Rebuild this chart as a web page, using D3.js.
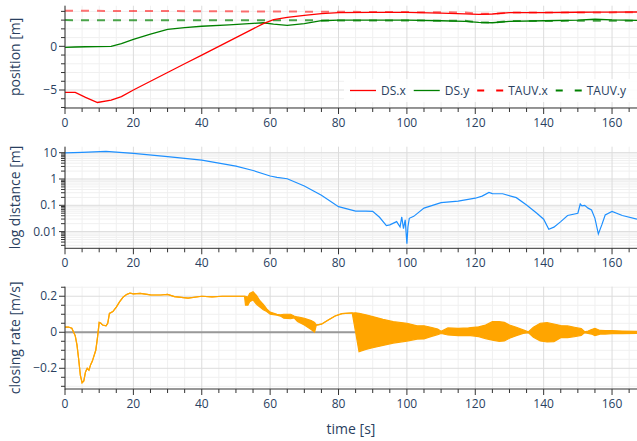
<!DOCTYPE html>
<html>
<head>
<meta charset="utf-8">
<script src="https://cdn.jsdelivr.net/npm/d3@7"></script>
<style>
  body { margin: 0; background: #fff; }
  svg { display: block; font-family: 'Open Sans', sans-serif; }
</style>
</head>
<body>
<div class="chart"></div>
<script>
// ---- data ----
// time axis
const timeDomain = [0, 167.3];
const timeTicks = [0, 20, 40, 60, 80, 100, 120, 140, 160];

// position [m] : DS.x / DS.y (solid), TAUV.x / TAUV.y (dashed)
const dsTime = [0, 3, 6, 9.5, 13.5, 16.5, 20, 25, 30, 35, 40, 48, 55, 58, 61, 65, 70, 75, 80, 90, 100, 110, 117, 121, 125, 130, 140, 150, 155, 160, 167.3];
const dsX = [-5.26, -5.27, -5.85, -6.43, -6.15, -5.75, -5.0, -4.0, -3.0, -2.0, -1.0, 0.6, 2.0, 2.6, 3.05, 3.32, 3.55, 3.75, 3.85, 3.88, 3.89, 3.81, 3.72, 3.66, 3.7, 3.85, 3.86, 3.9, 3.91, 3.92, 3.93];
const dsY = [-0.11, -0.08, -0.05, -0.03, 0.0, 0.3, 0.8, 1.4, 1.94, 2.15, 2.3, 2.45, 2.63, 2.7, 2.55, 2.4, 2.6, 2.93, 3.0, 3.0, 3.0, 2.93, 2.85, 2.75, 2.7, 2.85, 2.93, 3.0, 3.1, 3.02, 2.98];
const tauvTime = [0, 40, 75, 100, 117, 121, 126, 130, 167.3];
const tauvX = [4.07, 4.02, 3.96, 3.92, 3.88, 3.74, 3.74, 3.87, 3.89];
const tauvY = [3.0, 2.98, 2.97, 2.95, 2.93, 2.74, 2.74, 2.9, 2.93];

// log distance [m]
const distTime = [0, 5, 12, 20, 30, 40, 50, 55, 60, 62, 65, 70, 75, 80, 85, 88, 90, 92, 94, 95, 97, 98, 98.5, 99, 99.5, 100, 100.3, 100.7, 102, 105, 110, 115, 120, 122, 124, 125, 128, 132, 135, 138, 140, 141.5, 143, 145, 147, 150, 150.7, 151.2, 152, 153, 154, 155, 156, 157, 158, 160, 163, 167.3];
const distance = [9.8, 10.2, 11.2, 9.5, 7.1, 5.2, 3.1, 2.1, 1.3, 1.15, 1.02, 0.54, 0.24, 0.089, 0.06, 0.06, 0.059, 0.035, 0.017, 0.018, 0.024, 0.015, 0.036, 0.013, 0.028, 0.0035, 0.015, 0.032, 0.038, 0.078, 0.126, 0.145, 0.186, 0.224, 0.31, 0.28, 0.275, 0.195, 0.102, 0.05, 0.0295, 0.0123, 0.0148, 0.024, 0.041, 0.05, 0.112, 0.095, 0.1, 0.078, 0.066, 0.032, 0.0081, 0.018, 0.043, 0.058, 0.041, 0.03];

// closing rate [m/s] : upper / lower envelope (equal where the signal is smooth)
const rateTime = [0, 1, 2, 3, 3.5, 4, 4.5, 5, 5.5, 6, 6.5, 7, 7.5, 8, 9, 9.5, 10, 10.5, 11, 12, 12.5, 13, 14, 15, 16, 17, 18, 19, 20, 22, 25, 28, 30, 32, 36, 40, 43, 46, 52.5,
  52.8, 53.5, 54, 55, 56, 57, 58, 59, 60, 62, 63, 64, 66, 67, 68, 70, 72, 73, 73.5, 75, 77, 79, 81, 84,
  85, 86, 88, 90, 93, 96, 100, 103, 105, 107, 109, 110, 112, 115, 118, 121, 123, 125, 127, 128.5, 130, 132, 134, 135.5, 137, 139, 141, 143, 145, 147, 149, 151, 152, 153, 154, 155, 156.5, 158, 160, 163, 167.3];
const rateHi = [0.028, 0.029, 0.022, -0.02, -0.07, -0.15, -0.24, -0.28, -0.27, -0.22, -0.2, -0.21, -0.18, -0.16, -0.1, -0.03, 0.055, 0.05, 0.04, 0.036, 0.05, 0.105, 0.115, 0.14, 0.17, 0.195, 0.21, 0.217, 0.213, 0.216, 0.208, 0.207, 0.21, 0.198, 0.19, 0.2, 0.196, 0.2, 0.2,
  0.2, 0.195, 0.215, 0.225, 0.205, 0.175, 0.155, 0.13, 0.112, 0.1, 0.097, 0.1, 0.1, 0.09, 0.085, 0.078, 0.065, 0.055, 0.04, 0.045, 0.068, 0.09, 0.103, 0.107,
  0.108, 0.105, 0.097, 0.087, 0.072, 0.059, 0.05, 0.036, 0.036, 0.028, 0.018, 0.006, 0.024, 0.022, 0.024, 0.03, 0.04, 0.059, 0.059, 0.055, 0.04, 0.028, 0.013, 0.002, 0.028, 0.05, 0.053, 0.046, 0.037, 0.035, 0.028, 0.02, 0.003, 0.007, 0.015, 0.022, 0.01, 0.009, 0.009, 0.007, 0.005];
const rateLo = [0.028, 0.029, 0.022, -0.02, -0.07, -0.15, -0.24, -0.28, -0.27, -0.22, -0.2, -0.21, -0.18, -0.16, -0.1, -0.03, 0.055, 0.05, 0.04, 0.036, 0.05, 0.105, 0.115, 0.14, 0.17, 0.195, 0.21, 0.217, 0.213, 0.216, 0.208, 0.207, 0.21, 0.198, 0.19, 0.2, 0.196, 0.2, 0.2,
  0.15, 0.15, 0.17, 0.18, 0.155, 0.14, 0.125, 0.115, 0.1, 0.095, 0.09, 0.078, 0.075, 0.08, 0.06, 0.04, 0.015, 0.0, 0.04, 0.045, 0.068, 0.09, 0.103, 0.107,
  0.0, -0.108, -0.095, -0.086, -0.073, -0.06, -0.049, -0.038, -0.037, -0.024, -0.013, -0.007, -0.015, -0.019, -0.017, -0.024, -0.035, -0.044, -0.05, -0.048, -0.033, -0.019, -0.006, -0.002, -0.028, -0.048, -0.054, -0.052, -0.03, -0.03, -0.024, -0.017, -0.002, -0.006, -0.01, -0.019, -0.01, -0.01, -0.008, -0.008, -0.006];

// ---- look ----
const W = 637, H = 441;
const plotLeft = 65, plotRight = 637;
const textColor = '#2a3f5f';
const gridMajor = '#dcdcdc';
const gridMinor = '#f0f0f0';
const axisColor = '#333';

const svg = d3.select('.chart').append('svg')
  .attr('width', W).attr('height', H);

const x = d3.scaleLinear(timeDomain, [plotLeft, plotRight]);
const xMinor = d3.range(5, 170, 5).filter(d => d % 20 !== 0);

// panel setup: y scales, ticks, titles
const fmt = d3.format('');
const panels = [
  {
    key: 'pos', top: 5.7, bottom: 108, title: 'position [m]',
    y: d3.scaleLinear([-7.06, 4.65], [108, 5.7]),
    ticks: [-5, 0],
    minor: d3.range(-7, 5, 1).filter(d => d !== -5 && d !== 0),
    label: d => fmt(d)
  },
  {
    key: 'dist', top: 146.7, bottom: 248.3, title: 'log distance [m]',
    y: d3.scaleLog([Math.pow(10, -2.635), Math.pow(10, 1.228)], [248.3, 146.7]),
    ticks: [0.01, 0.1, 1, 10],
    minor: d3.range(-3, 2).flatMap(k => d3.range(2, 10).map(m => m * Math.pow(10, k)))
             .filter(d => d > Math.pow(10, -2.635) && d < Math.pow(10, 1.228)),
    label: d => String(d)
  },
  {
    key: 'rate', top: 286.7, bottom: 389, title: 'closing rate [m/s]',
    y: d3.scaleLinear([-0.315, 0.253], [389, 286.7]),
    ticks: [-0.2, 0, 0.2],
    minor: [-0.3, -0.25, -0.15, -0.1, -0.05, 0.05, 0.1, 0.15, 0.25],
    label: d => fmt(d),
    zero: true
  }
];

function drawPanel(p, i) {
  const g = svg.append('g').attr('class', 'panel-' + p.key);
  // minor grid
  g.selectAll('.xminor').data(xMinor).enter().append('line')
    .attr('x1', d => x(d)).attr('x2', d => x(d))
    .attr('y1', p.top).attr('y2', p.bottom)
    .attr('stroke', gridMinor);
  g.selectAll('.yminor').data(p.minor).enter().append('line')
    .attr('x1', plotLeft).attr('x2', plotRight)
    .attr('y1', d => p.y(d)).attr('y2', d => p.y(d))
    .attr('stroke', gridMinor);
  // major grid
  g.selectAll('.xmajor').data(timeTicks).enter().append('line')
    .attr('x1', d => x(d)).attr('x2', d => x(d))
    .attr('y1', p.top).attr('y2', p.bottom)
    .attr('stroke', gridMajor);
  g.selectAll('.ymajor').data(p.ticks).enter().append('line')
    .attr('x1', plotLeft).attr('x2', plotRight)
    .attr('y1', d => p.y(d)).attr('y2', d => p.y(d))
    .attr('stroke', gridMajor);
  if (p.zero) {
    g.append('line')
      .attr('x1', plotLeft).attr('x2', plotRight)
      .attr('y1', p.y(0)).attr('y2', p.y(0))
      .attr('stroke', '#999').attr('stroke-width', 2);
  }
  // clip for data
  svg.append('clipPath').attr('id', 'clip-' + p.key)
    .append('rect')
    .attr('x', plotLeft).attr('y', p.top)
    .attr('width', plotRight - plotLeft).attr('height', p.bottom - p.top);
  p.layer = svg.append('g').attr('clip-path', `url(#clip-${p.key})`);
  p.axes = svg.append('g');
}

function drawAxes(p) {
  const g = p.axes;
  // axis lines
  g.append('line').attr('x1', plotLeft).attr('x2', plotLeft)
    .attr('y1', p.top).attr('y2', p.bottom + 0.5)
    .attr('stroke', axisColor);
  g.append('line').attr('x1', plotLeft).attr('x2', plotRight)
    .attr('y1', p.bottom).attr('y2', p.bottom)
    .attr('stroke', axisColor);
  // ticks
  g.selectAll('.xt').data(timeTicks).enter().append('line')
    .attr('x1', d => x(d)).attr('x2', d => x(d))
    .attr('y1', p.bottom).attr('y2', p.bottom + 6).attr('stroke', axisColor);
  g.selectAll('.xmt').data(xMinor).enter().append('line')
    .attr('x1', d => x(d)).attr('x2', d => x(d))
    .attr('y1', p.bottom).attr('y2', p.bottom + 4).attr('stroke', axisColor);
  g.selectAll('.yt').data(p.ticks).enter().append('line')
    .attr('x1', plotLeft - 6).attr('x2', plotLeft)
    .attr('y1', d => p.y(d)).attr('y2', d => p.y(d)).attr('stroke', axisColor);
  g.selectAll('.ymt').data(p.minor).enter().append('line')
    .attr('x1', plotLeft - 4).attr('x2', plotLeft)
    .attr('y1', d => p.y(d)).attr('y2', d => p.y(d)).attr('stroke', axisColor);
  // tick labels
  g.selectAll('.xl').data(timeTicks).enter().append('text')
    .attr('x', d => x(d)).attr('y', p.bottom + 19)
    .attr('text-anchor', 'middle')
    .attr('font-size', 12).attr('fill', textColor)
    .text(d => d);
  g.selectAll('.yl').data(p.ticks).enter().append('text')
    .attr('x', plotLeft - 8).attr('y', d => p.y(d))
    .attr('dy', '0.35em')
    .attr('text-anchor', 'end')
    .attr('font-size', 12).attr('fill', textColor)
    .text(p.label);
  // y title
  g.append('text')
    .attr('transform', `translate(15,${(p.top + p.bottom) / 2}) rotate(-90)`)
    .attr('dy', '0.35em')
    .attr('text-anchor', 'middle')
    .attr('font-size', 14).attr('fill', textColor)
    .text(p.title);
}

panels.forEach(drawPanel);

// ---- series ----
const [pPos, pDist, pRate] = panels;

const posLine = vals => d3.line()
  .x((d, i) => x(d))
  .y((d, i) => pPos.y(vals[i]));

const series = [
  {name: 'DS.x', time: dsTime, vals: dsX, color: '#ff0000', width: 1.3, dash: null, opacity: 1},
  {name: 'DS.y', time: dsTime, vals: dsY, color: '#008000', width: 1.3, dash: null, opacity: 1},
  {name: 'TAUV.x', time: tauvTime, vals: tauvX, color: '#ff0000', width: 2, dash: '8,8', opacity: 0.55},
  {name: 'TAUV.y', time: tauvTime, vals: tauvY, color: '#008000', width: 2, dash: '8,8', opacity: 0.7}
];

series.slice().reverse().forEach(s => {
  pPos.layer.append('path')
    .attr('d', posLine(s.vals)(s.time))
    .attr('fill', 'none')
    .attr('stroke', s.color)
    .attr('stroke-width', s.width)
    .attr('stroke-dasharray', s.dash)
    .attr('stroke-opacity', s.opacity);
});

// distance (log)
pDist.layer.append('path')
  .attr('d', d3.line().x(d => x(d)).y((d, i) => pDist.y(distance[i]))(distTime))
  .attr('fill', 'none').attr('stroke', '#1e90ff').attr('stroke-width', 1.2);

// closing rate: envelope filled, edges stroked
pRate.layer.append('path')
  .attr('d', d3.area().x(d => x(d))
    .y0((d, i) => pRate.y(rateLo[i]))
    .y1((d, i) => pRate.y(rateHi[i]))(rateTime))
  .attr('fill', '#ffa500');
[rateHi, rateLo].forEach(vals => {
  pRate.layer.append('path')
    .attr('d', d3.line().x(d => x(d)).y((d, i) => pRate.y(vals[i]))(rateTime))
    .attr('fill', 'none').attr('stroke', '#ffa500').attr('stroke-width', 1.2);
});

panels.forEach(drawAxes);

// x title
svg.append('text')
  .attr('x', (plotLeft + plotRight) / 2).attr('y', 434)
  .attr('text-anchor', 'middle')
  .attr('font-size', 14).attr('fill', textColor)
  .text('time [s]');

// ---- legend (horizontal, bottom right of top panel) ----
const legend = svg.append('g').attr('class', 'legend');
legend.append('rect')
  .attr('x', 344).attr('y', 79).attr('width', 300).attr('height', 23)
  .attr('fill', '#fff').attr('fill-opacity', 0.85);
let lx = 350;
const ly = 90.5;
series.forEach(s => {
  const item = legend.append('g');
  item.append('line')
    .attr('x1', lx).attr('x2', lx + 26)
    .attr('y1', ly).attr('y2', ly)
    .attr('stroke', s.color)
    .attr('stroke-width', s.width)
    .attr('stroke-dasharray', s.dash ? '7,12' : null);
  const t = item.append('text')
    .attr('x', lx + 31).attr('y', ly).attr('dy', '0.35em')
    .attr('font-size', 12).attr('fill', textColor)
    .text(s.name);
  lx = lx + 31 + t.node().getComputedTextLength() + 8;
});
</script>
</body>
</html>
